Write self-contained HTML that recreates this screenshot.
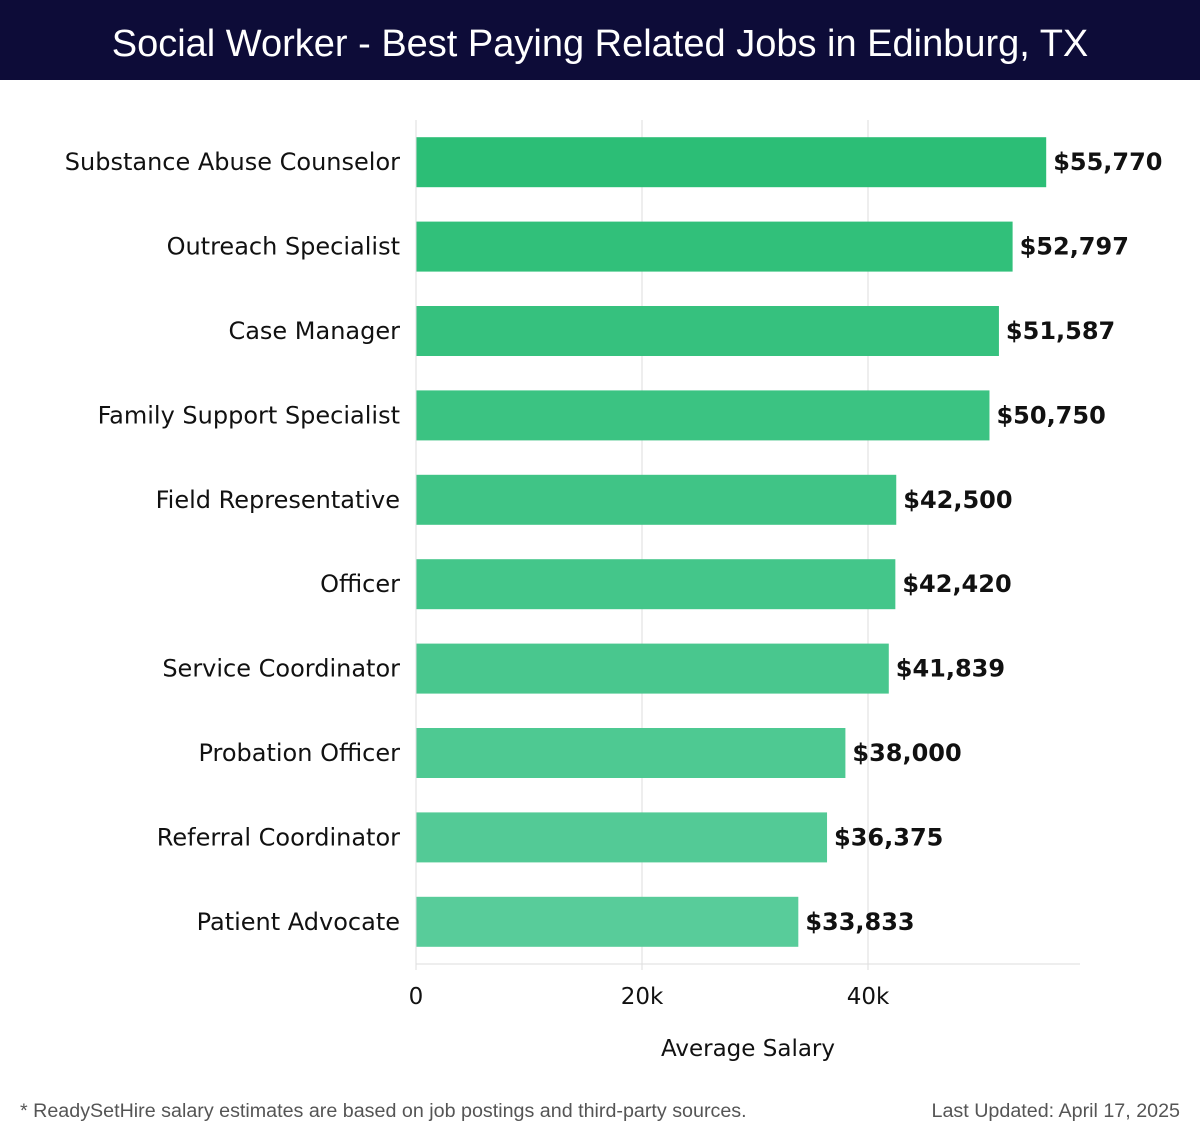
<!DOCTYPE html>
<html><head><meta charset="utf-8">
<style>
html,body{margin:0;padding:0;background:#fff;}
body{width:1200px;height:1140px;overflow:hidden;position:relative;font-family:"DejaVu Sans","Liberation Sans",sans-serif;}
#title{position:absolute;left:0;top:0;width:1200px;height:80px;background:#0d0c38;color:#fff;font-family:"Liberation Sans",sans-serif;font-size:38px;text-align:center;line-height:88px;font-weight:300;}
.foot{position:absolute;top:1100px;font-family:"Liberation Sans",sans-serif;font-size:19.7px;color:#555;}
</style></head>
<body>
<div id="title">Social Worker - Best Paying Related Jobs in Edinburg, TX</div>
<svg id="chart" width="1200" height="1140" style="position:absolute;left:0;top:0"></svg>
<div class="foot" style="left:20px">* ReadySetHire salary estimates are based on job postings and third-party sources.</div>
<div class="foot" style="right:20px">Last Updated: April 17, 2025</div>
<script>
const categories=["Substance Abuse Counselor","Outreach Specialist","Case Manager","Family Support Specialist","Field Representative","Officer","Service Coordinator","Probation Officer","Referral Coordinator","Patient Advocate"];
const salaries=[55770,52797,51587,50750,42500,42420,41839,38000,36375,33833];
const valueLabels=["$55,770","$52,797","$51,587","$50,750","$42,500","$42,420","$41,839","$38,000","$36,375","$33,833"];
const ticks=[0,20000,40000];
const tickLabels=["0","20k","40k"];

const svg=document.getElementById('chart');
const NS="http://www.w3.org/2000/svg";
const x0=416,pxPer=226/20000,top0=120,bandH=84.4,barH=50,plotRight=1080,plotBottom=964;
const xs=v=>x0+v*pxPer;
const yc=i=>top0+bandH*(i+0.5);
function mk(tag,attrs){const e=document.createElementNS(NS,tag);for(const k in attrs)e.setAttribute(k,attrs[k]);svg.appendChild(e);return e;}
ticks.forEach((t,i)=>{
  const g=mk('line',{x1:xs(t),x2:xs(t),y1:top0,y2:plotBottom+6,stroke:'#ddd','stroke-width':1});
  
  
  const tl=mk('text',{x:xs(t),y:1004,'text-anchor':'middle','font-size':23,fill:'#111'});
  tl.textContent=tickLabels[i];
  
  
});
const ax=mk('line',{x1:x0,x2:plotRight,y1:plotBottom,y2:plotBottom,stroke:'#ddd','stroke-width':1});


const c1=[44,190,118],c2=[88,204,154];
categories.forEach((c,i)=>{
  const f=i/(categories.length-1);
  const col=`rgb(${c1.map((v,k)=>Math.round(v+(c2[k]-v)*f)).join(',')})`;
  const r=mk('rect',{x:x0,y:yc(i)-barH/2,width:xs(salaries[i])-x0,height:barH,fill:col});
  
  
  const l=mk('text',{x:400,y:yc(i)+8,'text-anchor':'end','font-size':24,fill:'#111'});
  l.textContent=c;
  
  
  const v=mk('text',{x:xs(salaries[i])+7,y:yc(i)+8,'font-size':24,'font-weight':'bold',fill:'#111'});
  v.textContent=valueLabels[i];
  
  
});
const yl=mk('line',{x1:x0,x2:x0,y1:top0,y2:plotBottom+6,stroke:'#ddd','stroke-width':1});


const at=mk('text',{x:748,y:1056,'text-anchor':'middle','font-size':23,fill:'#111'});
at.textContent='Average Salary';


</script>
</body></html>
